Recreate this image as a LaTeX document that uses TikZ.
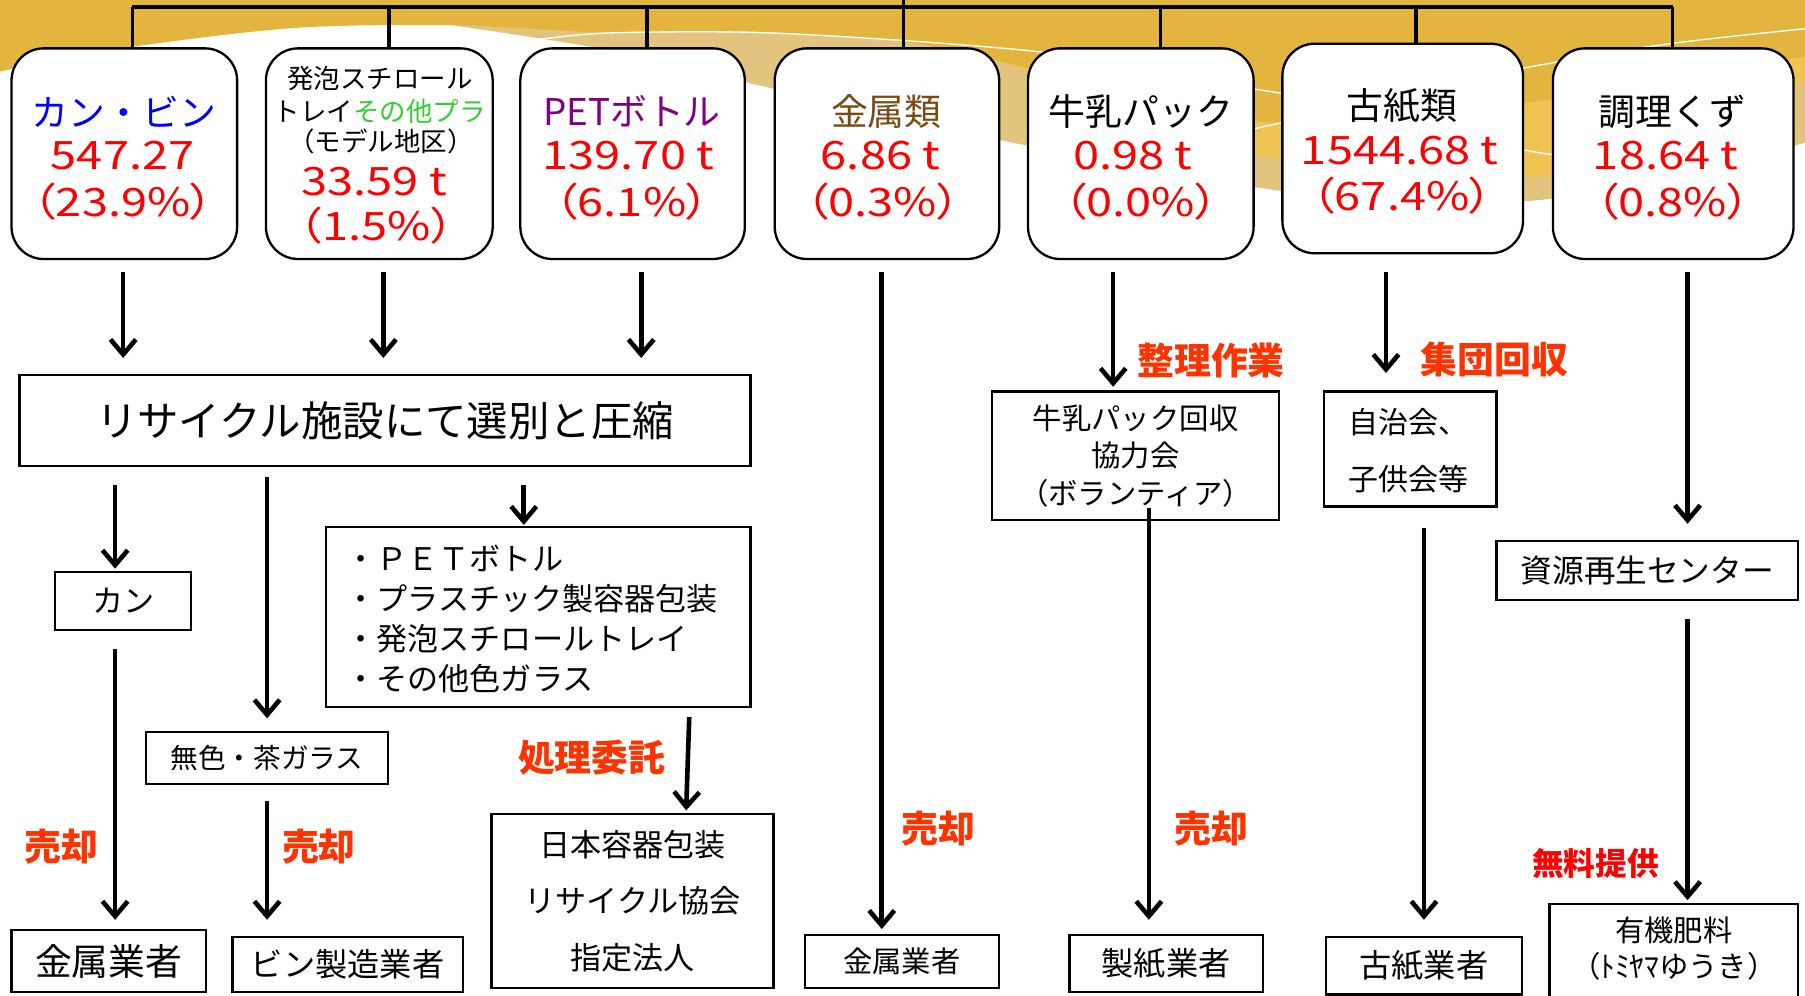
\documentclass[tikz,border=0pt]{standalone}
\usepackage{fontspec}
\setmainfont{Noto Sans CJK JP}
\newfontfamily\numfont[FakeStretch=1.2,RawFeature=+palt]{Noto Sans CJK JP}
\usetikzlibrary{arrows.meta}
\newcommand\fsz[1]{\fontsize{#1}{#1}\selectfont}
\newcommand\fszb[2]{\fontsize{#1}{#2}\selectfont}
\definecolor{cblue}{RGB}{0,0,255}
\definecolor{cgreen}{RGB}{51,204,51}
\definecolor{cpurple}{RGB}{128,0,128}
\definecolor{cbrown}{RGB}{122,74,18}
\definecolor{cred}{RGB}{255,0,0}
\definecolor{corange}{RGB}{255,51,0}
\definecolor{cgold}{RGB}{227,180,62}
\definecolor{clight}{RGB}{239,196,82}
\definecolor{ctan}{RGB}{227,196,127}
\tikzset{
  topbox/.style={draw, line width=2pt, rounded corners=28pt, fill=white, inner sep=0pt},
  rbox/.style={draw, line width=2pt, fill=white, inner sep=0pt, align=center},
  txt/.style={inner sep=0pt, align=center},
  num/.style={inner sep=0pt, text=cred, font=\numfont\fsz{34}},
  lab/.style={inner sep=0pt, text=black, font=\fsz{32}},
  sm/.style={inner sep=0pt, text=black, font=\fsz{23}},
  note/.style={inner sep=0pt, text=corange, font=\bfseries\fsz{32}},
  arr/.style={line width=4pt, -{Straight Barb[length=13pt,width=22pt]}},
  bus/.style={line width=3pt},
  wline/.style={white, line width=1.2pt}
}
\begin{document}
\begin{tikzpicture}[x=1pt,y=-1pt]
\useasboundingbox (0,0) rectangle (1568,865.2);
\clip (0,0) rectangle (1568,865.2);
\fill[white] (0,0) rectangle (1568,865.2);
% background wave
\fill[ctan] (380,0) -- (380,20) -- plot[smooth] coordinates {(380,20) (520,42) (650,72) (880,124) (1100,164) (1230,176) (1335,174) (1450,155) (1568,124)} -- (1568,0) -- cycle;
\fill[clight] (860,0) -- plot[smooth] coordinates {(860,50) (1000,100) (1100,136) (1220,150) (1335,153) (1450,125) (1568,70)} -- (1568,0) -- cycle;
\fill[cgold] (0,0) -- plot[smooth] coordinates {(0,62) (120,40) (260,24) (400,22) (520,28) (650,28) (782,36) (880,56) (1000,85) (1100,106) (1220,98) (1335,88) (1450,68) (1568,49)} -- (1568,0) -- cycle;
\draw[wline] plot[smooth] coordinates {(440,38) (521,29) (650,28) (782,35) (903,45) (1010,60) (1100,79) (1180,86) (1260,72) (1335,57) (1450,38) (1568,25)};
\draw[wline] plot[smooth] coordinates {(1085,113) (1160,100) (1250,112) (1323,130) (1360,136)};
% top boxes
\node[topbox, minimum width=196pt, minimum height=183pt] (T1) at (108,133.5) {};
\node[topbox, minimum width=197pt, minimum height=183pt] (T2) at (329.5,133.5) {};
\node[topbox, minimum width=195pt, minimum height=183pt] (T3) at (549.5,133.5) {};
\node[topbox, minimum width=195pt, minimum height=183pt] (T4) at (770.5,133.5) {};
\node[topbox, minimum width=196pt, minimum height=183pt] (T5) at (991,133.5) {};
\node[topbox, minimum width=209pt, minimum height=182pt] (T6) at (1218.5,129) {};
\node[topbox, minimum width=209pt, minimum height=183pt] (T7) at (1453.5,133.5) {};
% bus
\coordinate (j1) at (115,6); \coordinate (j2) at (338,6); \coordinate (j3) at (562,6);
\coordinate (j4) at (785,6); \coordinate (j5) at (1008,6); \coordinate (j6) at (1230,6);
\coordinate (j7) at (1453,6); \coordinate (top) at (785,0);
\draw[bus] (j1) -- (j7);
\draw[bus] (j1) -- (T1.north -| j1);
\draw[bus] (j2) -- (T2.north -| j2);
\draw[bus] (j3) -- (T3.north -| j3);
\draw[bus] (top) -- (T4.north -| top);
\draw[bus] (j5) -- (T5.north -| j5);
\draw[bus] (j6) -- (T6.north -| j6);
\draw[bus] (j7) -- (T7.north -| j7);
% top box texts
\node[lab, text=cblue] (t1a) at (107.5,97) {カン・ビン};
\node[num] (t1b) at (106.5,135) {547.27};
\node[num] (t1c) at (107,175) {（23.9\%）};
\node[sm] (t2a) at (330,68) {発泡スチロール};
\node[sm] (t2b) at (330,97) {トレイ\textcolor{cgreen}{その他プラ}};
\node[sm] (t2c) at (331,123) {（モデル地区）};
\node[num] (t2d) at (325,158) {33.59 t};
\node[num] (t2e) at (327,196) {（1.5\%）};
\node[lab, text=cpurple] (t3a) at (549,97) {PETボトル};
\node[num] (t3b) at (546,135) {139.70 t};
\node[num] (t3c) at (549,175) {（6.1\%）};
\node[lab, text=cbrown] (t4a) at (770,97) {金属類};
\node[num] (t4b) at (765,135) {6.86 t};
\node[num] (t4c) at (767,175) {（0.3\%）};
\node[lab] (t5a) at (991,97) {牛乳パック};
\node[num] (t5b) at (984,135) {0.98 t};
\node[num] (t5c) at (991,175) {（0.0\%）};
\node[lab] (t6a) at (1218,92) {古紙類};
\node[num] (t6b) at (1216,131) {1544.68 t};
\node[num] (t6c) at (1218,170) {（67.4\%）};
\node[lab] (t7a) at (1453,97) {調理くず};
\node[num] (t7b) at (1447,135) {18.64 t};
\node[num] (t7c) at (1453,175) {（0.8\%）};
% lower boxes
\node[rbox, minimum width=635pt, minimum height=79pt, font=\fsz{36}] (M) at (334.5,365.5) {リサイクル施設にて選別と圧縮};
\node[rbox, minimum width=118pt, minimum height=50pt, font=\fsz{27}] (K) at (107,522) {カン};
\node[rbox, minimum width=210pt, minimum height=45pt, font=\fsz{24}] (G) at (232,658.5) {無色・茶ガラス};
\node[rbox, minimum width=369pt, minimum height=156pt] (B) at (467.5,536) {};
\node[txt, anchor=west, align=left, font=\fszb{27}{34.7}] (Bt) at (300,538) {・ＰＥＴボトル\\・プラスチック製容器包装\\・発泡スチロールトレイ\\・その他色ガラス};
\node[rbox, minimum width=169pt, minimum height=54pt, font=\fsz{32}] (KB1) at (94.5,835) {金属業者};
\node[rbox, minimum width=200pt, minimum height=48pt, font=\fsz{28}] (VB) at (302,838) {ビン製造業者};
\node[rbox, minimum width=245pt, minimum height=151pt, font=\fszb{27}{49}] (N) at (549.5,782.5) {日本容器包装\\リサイクル協会\\指定法人};
\node[rbox, minimum width=169pt, minimum height=46pt, font=\fsz{25.5}] (KB2) at (783.5,835) {金属業者};
\node[rbox, minimum width=249pt, minimum height=112pt, font=\fszb{25.5}{32.5}] (MK) at (986.5,396) {牛乳パック回収\\協力会\\（ボランティア）};
\node[rbox, minimum width=168pt, minimum height=50pt, font=\fsz{28}] (SB) at (1013,837) {製紙業者};
\node[rbox, minimum width=150pt, minimum height=100pt] (JC) at (1225,390) {};
\node[txt, anchor=west, align=left, font=\fszb{26}{49}] (JCt) at (1171,391.5) {自治会、\\子供会等};
\node[rbox, minimum width=170pt, minimum height=50pt, font=\fsz{28}] (KS) at (1237,839) {古紙業者};
\node[rbox, minimum width=262pt, minimum height=51pt, font=\fsz{27.5}] (SC) at (1431,495.5) {資源再生センター};
\node[rbox, minimum width=216pt, minimum height=90pt] (YH) at (1454,830) {};
\node[txt, font=\fszb{25.5}{32}] (YHt) at (1454,824) {有機肥料\\（ﾄﾐﾔﾏゆうき）};
% arrow columns
\coordinate (c1) at (107,0); \coordinate (c2) at (333,0); \coordinate (c3) at (557,0);
\coordinate (c4) at (100,0); \coordinate (c5) at (232,0); \coordinate (c6) at (455,0);
\coordinate (c7) at (766,0); \coordinate (c8) at (967,0); \coordinate (c9) at (998,0);
\coordinate (c10) at (1204,0); \coordinate (c11) at (1237,0); \coordinate (c12) at (1466,0);
\coordinate (s1) at (599,0); \coordinate (s2) at (596,0);
\draw[arr, shorten <=10pt, shorten >=14pt] (T1.south -| c1) -- (M.north -| c1);
\draw[arr, shorten <=10pt, shorten >=14pt] (T2.south -| c2) -- (M.north -| c2);
\draw[arr, shorten <=10pt, shorten >=14pt] (T3.south -| c3) -- (M.north -| c3);
\draw[arr, shorten <=15pt, shorten >=2pt] (M.south -| c4) -- (K.north -| c4);
\draw[arr, shorten <=8pt, shorten >=11pt] (M.south -| c5) -- (G.north -| c5);
\draw[arr, shorten <=15pt, shorten >=1pt] (M.south -| c6) -- (B.north -| c6);
\draw[arr, shorten <=16pt, shorten >=8pt] (K.south -| c4) -- (KB1.north -| c4);
\draw[arr, shorten <=14pt, shorten >=14pt] (G.south -| c5) -- (VB.north -| c5);
\draw[arr, shorten <=8pt, shorten >=2pt] (B.south -| s1) -- (N.north -| s2);
\draw[arr, shorten <=10pt, shorten >=4pt] (T4.south -| c7) -- (KB2.north -| c7);
\draw[arr, shorten <=10pt, shorten >=3pt] (T5.south -| c8) -- (MK.north -| c8);
\draw[arr, shorten <=-12pt, shorten >=12pt] (MK.south -| c9) -- (SB.north -| c9);
\draw[arr, shorten <=15pt, shorten >=15pt] (T6.south -| c10) -- (JC.north -| c10);
\draw[arr, shorten <=18pt, shorten >=14pt] (JC.south -| c11) -- (KS.north -| c11);
\draw[arr, shorten <=10pt, shorten >=14pt] (T7.south -| c12) -- (SC.north -| c12);
\draw[arr, shorten <=16pt, shorten >=2pt] (SC.south -| c12) -- (YH.north -| c12);
% labels
\node[note] (n1) at (53,735) {売却};
\node[note] (n2) at (277,735) {売却};
\node[note] (n3) at (514,658) {処理委託};
\node[note] (n4) at (815,720) {売却};
\node[note] (n5) at (1052,313) {整理作業};
\node[note] (n6) at (1052,720) {売却};
\node[note] (n7) at (1298,312) {集団回収};
\node[note, text=cred, font=\bfseries\fsz{27.5}] (n8) at (1386,750) {無料提供};
\end{tikzpicture}
\end{document}
